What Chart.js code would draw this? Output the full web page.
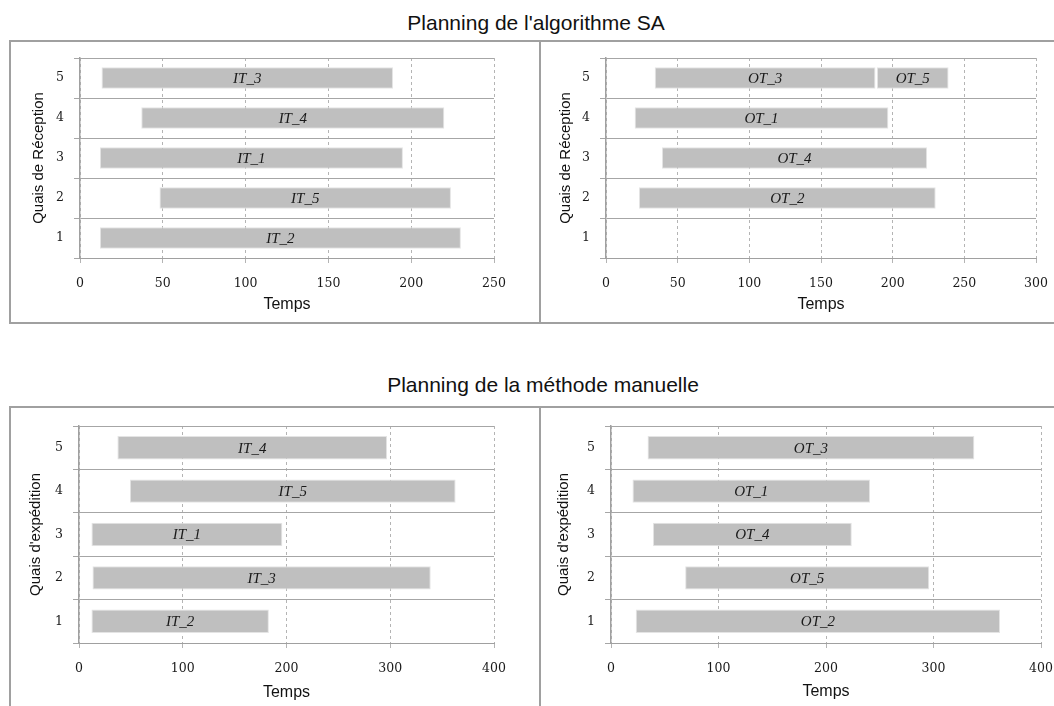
<!DOCTYPE html>
<html>
<head>
<meta charset="utf-8">
<script src="https://cdn.jsdelivr.net/npm/chart.js@4.4.1/dist/chart.umd.min.js"></script>
<style>
  body { margin: 0; background: #fff; width: 1054px; height: 706px; overflow: hidden; position: relative; }
  .titre { position: absolute; font-family: "Liberation Sans", Arial, sans-serif; font-size: 21px; line-height: 24px; color: #111; white-space: nowrap; transform: translateX(-50%); }
  .cadre { position: absolute; border: 2px solid #a0a0a0; box-sizing: border-box; }
  .sep { position: absolute; width: 2px; background: #a0a0a0; }
  canvas { position: absolute; }
</style>
</head>
<body>
<div class="titre" style="left:536px; top:11px;">Planning de l'algorithme SA</div>
<div class="titre" style="left:543px; top:373px;">Planning de la méthode manuelle</div>

<div class="cadre" style="left:9px; top:40px; width:1100px; height:284px;"></div>
<div class="sep" style="left:539px; top:40px; height:284px;"></div>
<div class="cadre" style="left:9px; top:406px; width:1100px; height:400px;"></div>
<div class="sep" style="left:539px; top:406px; height:400px;"></div>

<canvas id="saRecep" width="528" height="280" style="left:11px; top:42px;"></canvas>
<canvas id="saExp" width="513" height="280" style="left:541px; top:42px;"></canvas>
<canvas id="manRecep" width="528" height="298" style="left:11px; top:408px;"></canvas>
<canvas id="manExp" width="513" height="298" style="left:541px; top:408px;"></canvas>

<script>
// quais, du haut vers le bas
const quais = ['5', '4', '3', '2', '1'];

// Planning SA - gauche
const saRecepTaches = ['IT_3', 'IT_4', 'IT_1', 'IT_5', 'IT_2'];
const saRecepDebut = [13, 37, 12, 48, 12];
const saRecepFin = [189, 220, 195, 224, 230];

// Planning SA - droite (quai 5 a deux taches)
const saExpTaches = ['OT_3', 'OT_1', 'OT_4', 'OT_2', null];
const saExpDebut = [34, 20, 39, 23, null];
const saExpFin = [188, 197, 224, 230, null];
const saExpTaches2 = ['OT_5', null, null, null, null];
const saExpDebut2 = [189, null, null, null, null];
const saExpFin2 = [239, null, null, null, null];

// Methode manuelle - gauche
const manRecepTaches = ['IT_4', 'IT_5', 'IT_1', 'IT_3', 'IT_2'];
const manRecepDebut = [37, 49, 12, 13, 12];
const manRecepFin = [297, 363, 196, 339, 183];

// Methode manuelle - droite
const manExpTaches = ['OT_3', 'OT_1', 'OT_4', 'OT_5', 'OT_2'];
const manExpDebut = [34, 20, 39, 69, 23];
const manExpFin = [338, 241, 224, 296, 362];

function intervalles(debut, fin) {
    return debut.map((d, i) => (d === null ? null : [d, fin[i]]));
}

// ecrit le nom de la tache au milieu de chaque barre
const etiquettes = {
    id: 'etiquettes',
    afterDatasetsDraw(chart) {
        const ctx = chart.ctx;
        ctx.save();
        ctx.font = 'italic 15px "Liberation Serif", serif';
        ctx.fillStyle = '#1a1a1a';
        ctx.textAlign = 'center';
        ctx.textBaseline = 'middle';
        chart.data.datasets.forEach((ds, i) => {
            chart.getDatasetMeta(i).data.forEach((bar, j) => {
                const txt = ds.taches[j];
                if (!txt) return;
                const p = bar.getProps(['x', 'y', 'base'], true);
                ctx.fillText(txt, (p.x + p.base) / 2, p.y + 1);
            });
        });
        ctx.restore();
    }
};

function dataset(debut, fin, taches) {
    return {
        data: intervalles(debut, fin),
        taches: taches,
        backgroundColor: '#bfbfbf',
        borderColor: '#e4e4e4',
        borderWidth: 1,
        borderSkipped: false,
        grouped: false,
        categoryPercentage: 1,
        barPercentage: 0.54
    };
}

function planning(id, datasets, o) {
    new Chart(document.getElementById(id), {
        type: 'bar',
        data: { labels: quais, datasets: datasets },
        options: {
            indexAxis: 'y',
            responsive: false,
            animation: false,
            layout: { padding: { top: o.top, right: o.right, left: 0, bottom: 0 } },
            plugins: { legend: { display: false }, tooltip: { enabled: false } },
            scales: {
                x: {
                    min: 0,
                    max: o.max,
                    ticks: { stepSize: o.step, padding: 13, color: '#1a1a1a', font: { family: '"DejaVu Serif", serif', size: 12.5 } },
                    grid: { color: '#b4b4b4', tickLength: 5, tickColor: '#b4b4b4' },
                    border: { display: true, color: '#a0a0a0', width: 1, dash: [3, 3] },
                    title: { display: true, text: 'Temps', color: '#111', padding: { top: 0, bottom: o.xPad }, font: { family: '"Liberation Sans", Arial, sans-serif', size: 16 } },
                    afterFit: (s) => { s.height = o.xHeight; s.paddingLeft = 0; s.paddingRight = 0; }
                },
                y: {
                    offset: true,
                    ticks: { padding: 10, color: '#1a1a1a', font: { family: '"DejaVu Serif", serif', size: 12.5 } },
                    grid: { offset: true, color: '#a6a6a6', tickLength: 6, tickColor: '#a6a6a6' },
                    border: { display: true, color: '#a0a0a0', width: 1.5 },
                    title: { display: true, text: o.yTitre, color: '#111', padding: { top: o.yPad, bottom: 0 }, font: { family: '"Liberation Sans", Arial, sans-serif', size: 15 } },
                    afterFit: (s) => { s.width = o.yWidth; s.paddingTop = 0; s.paddingBottom = 0; }
                }
            }
        },
        plugins: [etiquettes]
    });
}

planning('saRecep', [dataset(saRecepDebut, saRecepFin, saRecepTaches)],
    { top: 16, right: 45, max: 250, step: 50, xHeight: 64, xPad: 8, yWidth: 69, yPad: 19, yTitre: 'Quais de Réception' });

planning('saExp', [dataset(saExpDebut, saExpFin, saExpTaches), dataset(saExpDebut2, saExpFin2, saExpTaches2)],
    { top: 16, right: 18, max: 300, step: 50, xHeight: 64, xPad: 8, yWidth: 65, yPad: 16, yTitre: 'Quais de Réception' });

planning('manRecep', [dataset(manRecepDebut, manRecepFin, manRecepTaches)],
    { top: 18, right: 45, max: 400, step: 100, xHeight: 63, xPad: 4, yWidth: 68, yPad: 16, yTitre: "Quais d'expédition" });

planning('manExp', [dataset(manExpDebut, manExpFin, manExpTaches)],
    { top: 18, right: 13, max: 400, step: 100, xHeight: 63, xPad: 5, yWidth: 70, yPad: 14, yTitre: "Quais d'expédition" });
</script>
</body>
</html>
